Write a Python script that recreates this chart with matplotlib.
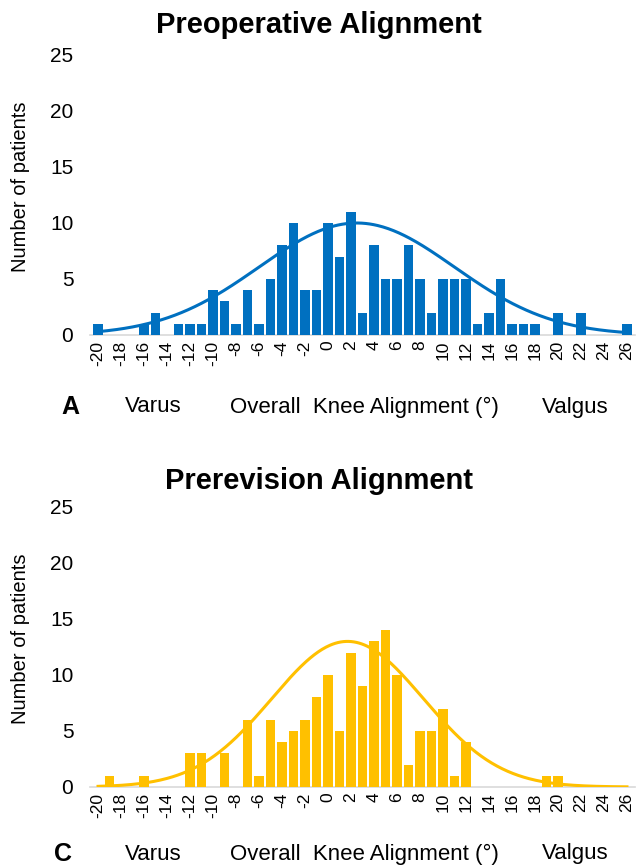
import numpy as np
import matplotlib
matplotlib.use("Agg")
import matplotlib.pyplot as plt

plt.rcParams['font.family'] = ['Liberation Sans', 'DejaVu Sans']

angles = list(range(-20, 27))
preop_counts = [1, 0, 0, 0, 1, 2, 0, 1, 1, 1, 4, 3, 1, 4, 1, 5, 8, 10, 4, 4,
                10, 7, 11, 2, 8, 5, 5, 8, 5, 2, 5, 5, 5, 1, 2, 5, 1, 1, 1, 0,
                2, 0, 2, 0, 0, 0, 1]
prerev_counts = [0, 1, 0, 0, 1, 0, 0, 0, 3, 3, 0, 3, 0, 6, 1, 6, 4, 5, 6, 8,
                 10, 5, 12, 9, 13, 14, 10, 2, 5, 5, 7, 1, 4, 0, 0, 0, 0, 0, 0, 1,
                 1, 0, 0, 0, 0, 0, 0]
# fitted normal curves (mean, sd, peak)
preop_fit = (2.5, 8.5, 10.0)
prerev_fit = (1.7, 6.6, 13.0)
xticks = list(range(-20, 27, 2))
yticks = [0, 5, 10, 15, 20, 25]

W, H = 638, 868
fig = plt.figure(figsize=(W / 100, H / 100), dpi=100)

def panel(bottom_px, counts, fit, color, title, letter, title_y, text_y, letter_x):
    left = 90 / W
    width = 545 / W
    ax = fig.add_axes([left, 1 - bottom_px / H, width, 280 / H])
    ax.bar(angles, counts, width=0.8, color=color, zorder=2)
    xs = np.linspace(-20, 26, 400)
    m, s, p = fit
    ax.plot(xs, p * np.exp(-0.5 * ((xs - m) / s) ** 2), color=color, lw=2.2, zorder=3)
    ax.set_xlim(-20.7, 26.7)
    ax.set_ylim(0, 25)
    ax.set_yticks(yticks)
    ax.set_xticks(xticks)
    ax.set_xticklabels([str(t) for t in xticks], rotation=90, fontsize=12.5)
    ax.tick_params(axis='y', length=0, labelsize=15, pad=12)
    ax.tick_params(axis='x', length=0, pad=4)
    for sp in ['top', 'right', 'left']:
        ax.spines[sp].set_visible(False)
    ax.spines['bottom'].set_color('#d9d9d9')
    ax.spines['bottom'].set_linewidth(1.2)
    ax.spines['bottom'].set_zorder(1)
    ax.set_ylabel('Number of patients', fontsize=14.5, va='center')
    ax.yaxis.set_label_coords(-(90 - 21) / 545, 0.53)
    fig.text(319 / W, 1 - title_y / H, title, ha='center', va='center',
             fontsize=21, fontweight='bold')
    fig.text(letter_x / W, 1 - text_y / H, letter, ha='center', va='center',
             fontsize=18, fontweight='bold')
    fig.text(153 / W, 1 - text_y / H, 'Varus', ha='center', va='center', fontsize=16)
    fig.text(364 / W, 1 - text_y / H, 'Overall  Knee Alignment (°)', ha='center', va='center', fontsize=16)
    fig.text(575 / W, 1 - text_y / H, 'Valgus', ha='center', va='center', fontsize=16)
    return ax

panel(335, preop_counts, preop_fit, '#0070C0', 'Preoperative Alignment', 'A', 25, 407, 70)
panel(787, prerev_counts, prerev_fit, '#FFC000', 'Prerevision Alignment', 'C', 481, 854, 63)

fig.savefig('out.png', dpi=100)
